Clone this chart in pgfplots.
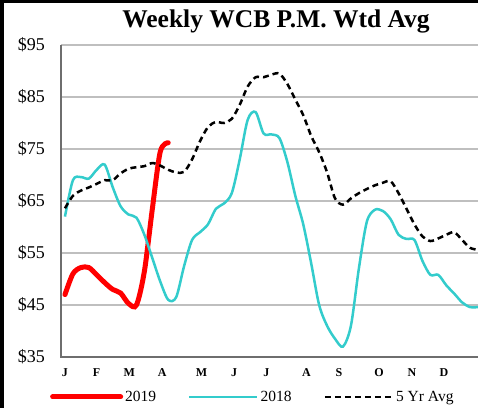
\documentclass[border=0pt]{standalone}
\usepackage{pgfplots}
\pgfplotsset{compat=1.18}
\usepackage{fontspec}
\setmainfont{Liberation Serif}
\definecolor{cy}{RGB}{51,204,204}
\definecolor{gridc}{RGB}{191,191,191}
\definecolor{axc}{RGB}{110,110,110}
\begin{document}
\begin{tikzpicture}
\useasboundingbox (0,0) rectangle (478bp,408bp);
\fill[white] (0,0) rectangle (478bp,408bp);
\begin{axis}[
  at={(61bp,51bp)}, anchor=south west,
  scale only axis, width=417bp, height=312bp,
  xmin=0.5, xmax=53, ymin=35, ymax=95,
  axis line style={draw=none},
  ytick={35,45,55,65,75,85,95},
  yticklabels={\$35,\$45,\$55,\$65,\$75,\$85,\$95},
  xtick={1,4.99,9.09,13.24,18.19,22.29,26.37,31.40,35.50,40.53,44.69,48.71},
  xticklabels={J,F,M,A,M,J,J,A,S,O,N,D},
  major tick length=0pt,
  ymajorgrids, grid style={gridc, line width=1.2bp},
  yticklabel style={font=\fontsize{18bp}{20bp}\selectfont, inner sep=0pt, xshift=-16bp},
  xticklabel style={font=\fontsize{12bp}{14bp}\selectfont\bfseries, inner sep=0pt, yshift=-11bp},
  clip=false,
  legend columns=3,
  legend style={at={(axis description cs:0.46,-0.128)}, anchor=center, draw=none, fill=none,
    font=\fontsize{15.5bp}{17bp}\selectfont, inner sep=0pt,
    /tikz/every even column/.append style={column sep=30bp}},
  legend image code/.code={\draw[#1] (0bp,0bp) -- (68bp,0bp);},
]
\addplot[red, line width=5bp, smooth, tension=0.5, line cap=round] coordinates {
(1,47.0) (2,51.0) (3,52.2) (4,52.2) (5,50.8) (6,49.3) (7,48.0) (8,47.3) (9,45.3) (10,45.0) (11,51.5) (12,63.5) (13,74.5) (14,76.2)
};
\addlegendentry{2019}
\addplot[cy, line width=2.5bp, smooth, tension=0.5] coordinates {
(1,62) (2,69) (3,69.6) (4,69.3) (5,71) (6,72) (7,67.7) (8,64) (9,62.4) (10,61.8)
(11,58.5) (12,54) (13,49.5) (14,46) (15,46.5) (16,52.5) (17,57.5) (18,59) (19,60.5) (20,63.5)
(21,64.5) (22,66.5) (23,73) (24,80.6) (25,82.1) (26,78) (27,77.8) (28,77.1) (29,72.5) (30,66)
(31,60.5) (32,53) (33,45) (34,41) (35,38.5) (36,37) (37,41) (38,52) (39,61) (40,63.3)
(41,63.1) (42,61.5) (43,58.5) (44,57.7) (45,57.5) (46,53.5) (47,50.8) (48,50.8) (49,48.8) (50,47.2)
(51,45.5) (52,44.6) (53,44.6)
};
\addlegendentry{2018}
\addplot[black, line width=2.5bp, dash pattern=on 6bp off 4bp, smooth, tension=0.5] coordinates {
(1,63.6) (2,66) (3,67) (4,67.6) (5,68.3) (6,69) (7,69) (8,70.3) (9,71.2) (10,71.5)
(11,71.7) (12,72.3) (13,71.8) (14,71) (15,70.5) (16,70.6) (17,73) (18,76.5) (19,79.2) (20,80.2)
(21,80) (22,80.8) (23,83.5) (24,87) (25,88.8) (26,88.8) (27,89.3) (28,89.5) (29,87.5) (30,84.5)
(31,81.5) (32,77.5) (33,74.4) (34,70.5) (35,65.5) (36,64.3) (37,65.5) (38,66.5) (39,67.3) (40,68)
(41,68.5) (42,68.8) (43,66.5) (44,63.5) (45,60.5) (46,58.2) (47,57.3) (48,57.8) (49,58.5) (50,59)
(51,57.5) (52,56) (53,55.6)
};
\addlegendentry{5 Yr Avg}
\draw[axc, line width=2bp] (rel axis cs:0,1) -- (rel axis cs:0,0) -- (rel axis cs:1,0);
\end{axis}
\node[anchor=base, font=\fontsize{25.5bp}{28bp}\selectfont\bfseries] at (276bp,380bp) {Weekly WCB P.M. Wtd Avg};
\fill[black] (0,0) rectangle (3.5bp,408bp);
\fill[black] (0,405.3bp) rectangle (478bp,408bp);
\end{tikzpicture}
\end{document}
